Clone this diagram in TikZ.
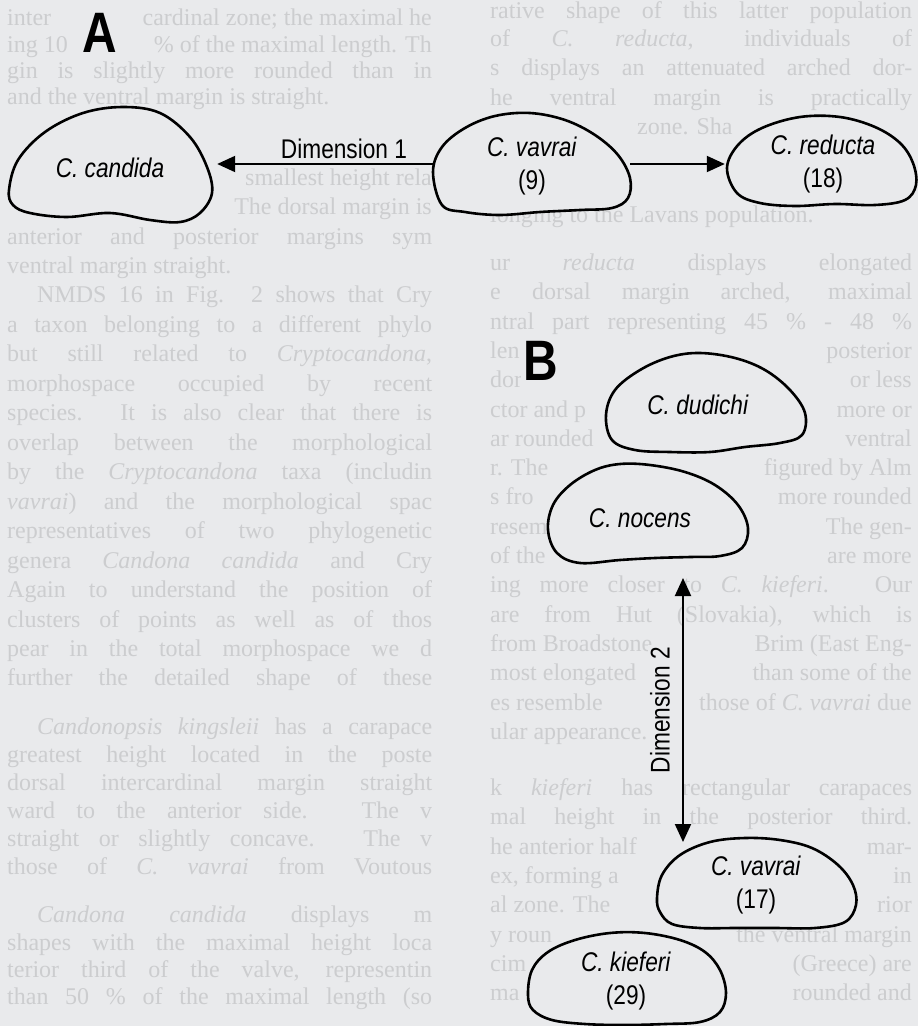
\documentclass[tikz,border=0pt]{standalone}
\usepackage{fontspec}
\setmainfont{Liberation Serif}
\newfontfamily\labfont[FakeStretch=0.84]{Liberation Sans}
\usetikzlibrary{arrows.meta}
\definecolor{paper}{HTML}{E9EAEC}
\definecolor{ghost}{HTML}{CCCDCF}
\tikzset{
  bgtext/.style={font=\fontsize{24}{24}\selectfont, text=ghost, inner sep=0pt, anchor=base west},
  bgR/.style={bgtext, anchor=base east},
  blob/.style={draw=black, line width=2.6pt, fill=paper, line join=round},
  bbox/.style={draw=none, inner sep=0pt},
  lab/.style={font=\labfont\fontsize{27}{33}\selectfont, align=center, inner sep=0pt},
  dimlab/.style={font=\labfont\fontsize{27}{33}\selectfont, inner sep=2pt, fill=paper},
  panel/.style={font=\labfont\fontsize{57}{57}\selectfont\bfseries, inner sep=3pt, fill=paper},
  arr/.style={line width=2pt, -{Triangle[length=18pt,width=16pt]}},
  dblarr/.style={line width=2pt, {Triangle[length=18pt,width=16pt]}-{Triangle[length=18pt,width=16pt]}},
}
\begin{document}
\begin{tikzpicture}[x=1pt,y=-1pt]
\fill[paper] (0,0) rectangle (918,1026);
\useasboundingbox (0,0) rectangle (918,1026);

% ---- faint text of the scanned page, left column ----
\foreach \yy/\tt [count=\i] in {
 78/{gin is slightly more rounded than in},
 104/{and the ventral margin is straight.\hfill},
 244/{anterior and posterior margins sym},
 273/{ventral margin straight.\hfill},
 302/{\hspace*{30pt}NMDS 16 in Fig. 2 shows that Cry},
 332/{a taxon belonging to a different phylo},
 361/{but still related to \textit{Cryptocandona},},
 391/{morphospace occupied by recent},
 420/{species. It is also clear that there is},
 450/{overlap between the morphological},
 479/{by the \textit{Cryptocandona} taxa (includin},
 509/{\textit{vavrai}) and the morphological spac},
 538/{representatives of two phylogenetic},
 568/{genera \textit{Candona candida} and Cry},
 597/{Again to understand the position of},
 627/{clusters of points as well as of thos},
 656/{pear in the total morphospace we d},
 685/{further the detailed shape of these},
 734/{\hspace*{30pt}\textit{Candonopsis kingsleii} has a carapace},
 762/{greatest height located in the poste},
 790/{dorsal intercardinal margin straight},
 818/{ward to the anterior side. The v},
 846/{straight or slightly concave. The v},
 874/{those of \textit{C. vavrai} from Voutous},
 922/{\hspace*{30pt}\textit{Candona candida} displays m},
 950/{shapes with the maximal height loca},
 977/{terior third of the valve, representin},
 1004/{than 50 \% of the maximal length (so}}
 \node[bgtext] (pa\i) at (7,\yy) {\makebox[425pt][s]{\tt}};
\node[bgtext] (pa1l) at (7,25) {inter};
\node[bgR] (pa1r) at (432,25) {cardinal zone; the maximal he};
\node[bgtext] (pa2l) at (7,52) {ing 10};
\node[bgR] (pa2r) at (432,52) {\% of the maximal length. Th};
\node[bgR] (pa6r) at (432,185) {smallest height rela};
\node[bgR] (pa7r) at (432,214) {The dorsal margin is};

% ---- faint text of the scanned page, right column ----
\foreach \yy/\tt [count=\i] in {
 18/{rative shape of this latter population},
 46/{of \textit{C. reducta}, individuals of},
 75/{s displays an attenuated arched dor-},
 105/{he ventral margin is practically},
 222/{longing to the Lavans population.\hfill},
 270/{ur \textit{reducta} displays elongated},
 299/{e dorsal margin arched, maximal},
 329/{ntral part representing 45 \% - 48 \%},
 592/{ing more closer to \textit{C. kieferi}. Our},
 622/{are from Hut (Slovakia), which is},
 795/{k \textit{kieferi} has rectangular carapaces},
 824/{mal height in the posterior third.}}
 \node[bgtext] (pb\i) at (490,\yy) {\makebox[422pt][s]{\tt}};
\node[bgtext] (q134) at (637,134) {zone. Sha};
\node[bgtext] (q358l) at (490,358) {len};
\node[bgR] (q358r) at (912,358) {posterior};
\node[bgtext] (q387l) at (490,387) {dor};
\node[bgR] (q387r) at (912,387) {or less};
\node[bgtext] (q417l) at (490,417) {ctor and p};
\node[bgR] (q417r) at (912,417) {more or};
\node[bgtext] (q446l) at (490,446) {ar rounded};
\node[bgR] (q446r) at (912,446) {ventral};
\node[bgtext] (q475l) at (490,475) {r. The};
\node[bgR] (q475r) at (912,475) {figured by Alm};
\node[bgtext] (q504l) at (490,504) {s fro};
\node[bgR] (q504r) at (912,504) {more rounded};
\node[bgtext] (q534l) at (490,534) {resem};
\node[bgR] (q534r) at (912,534) {The gen-};
\node[bgtext] (q563l) at (490,563) {of the};
\node[bgR] (q563r) at (912,563) {are more};
\node[bgtext] (q651l) at (490,651) {from Broadstone};
\node[bgR] (q651r) at (912,651) {Brim (East Eng-};
\node[bgtext] (q680l) at (490,680) {most elongated};
\node[bgR] (q680r) at (912,680) {than some of the};
\node[bgtext] (q710l) at (490,710) {es resemble};
\node[bgR] (q710r) at (912,710) {those of \textit{C. vavrai} due};
\node[bgtext] (q739l) at (490,739) {ular appearance.};
\node[bgtext] (q854l) at (490,854) {he anterior half};
\node[bgR] (q854r) at (912,854) {mar-};
\node[bgtext] (q883l) at (490,883) {ex, forming a};
\node[bgR] (q883r) at (912,883) {in};
\node[bgtext] (q912l) at (490,912) {al zone. The};
\node[bgR] (q912r) at (912,912) {rior};
\node[bgtext] (q942l) at (490,942) {y roun};
\node[bgR] (q942r) at (912,942) {the ventral margin};
\node[bgtext] (q971l) at (490,971) {cim};
\node[bgR] (q971r) at (912,971) {(Greece) are};
\node[bgtext] (q1000l) at (490,1000) {ma};
\node[bgR] (q1000r) at (912,1000) {rounded and};

% ---- panel letters ----
\node[panel] (A) at (100,33) {A};
\node[panel] (B) at (541,361) {B};

% ---- blob outlines ----
\draw[blob] plot[smooth cycle, tension=0.6] coordinates {(9,190) (18,160) (45,132) (83,113) (123,107) (160,113) (190,137) (207,167) (212,193) (200,213) (180,222) (150,220) (110,213) (67,217) (30,213) (13,205)};
\draw[blob] plot[smooth cycle, tension=0.6] coordinates {(433,172) (442,147) (465,128) (495,116) (530,113) (565,120) (595,135) (618,155) (630,178) (628,198) (612,208) (580,210) (540,212) (500,215) (465,212) (442,205)};
\draw[blob] plot[smooth cycle, tension=0.6] coordinates {(727,168) (738,145) (762,128) (800,117) (840,117) (875,127) (900,143) (913,163) (916,185) (905,200) (875,205) (835,204) (795,206) (760,203) (737,193)};
\draw[blob] plot[smooth cycle, tension=0.6] coordinates {(606,415) (615,390) (640,370) (670,357) (700,353) (735,358) (765,370) (790,390) (805,413) (802,435) (780,443) (745,447) (710,452) (670,452) (635,450) (612,440)};
\draw[blob] plot[smooth cycle, tension=0.6] coordinates {(548,530) (553,505) (570,485) (595,470) (620,464) (650,465) (685,472) (715,485) (738,505) (748,528) (742,548) (720,556) (690,557) (655,558) (620,560) (580,563) (557,553)};
\draw[blob] plot[smooth cycle, tension=0.6] coordinates {(657,898) (662,875) (680,855) (710,842) (745,838) (780,840) (812,848) (838,865) (853,885) (856,905) (845,922) (815,928) (775,928) (735,928) (700,928) (672,924) (660,912)};
\draw[blob] plot[smooth cycle, tension=0.6] coordinates {(528,995) (532,970) (548,952) (575,940) (610,933) (645,933) (680,940) (705,952) (720,970) (726,993) (720,1012) (700,1022) (665,1024) (625,1025) (585,1024) (552,1020) (533,1010)};

% ---- blob extents as named nodes ----
\node[bbox, minimum width=203pt, minimum height=118pt] (cand) at (110.5,166) {};
\node[bbox, minimum width=197pt, minimum height=102pt] (v9) at (531.5,164) {};
\node[bbox, minimum width=189pt, minimum height=89pt] (red) at (821.5,161.5) {};
\node[bbox, minimum width=200pt, minimum height=99pt] (dud) at (706,402.5) {};
\node[bbox, minimum width=200pt, minimum height=99pt] (noc) at (648,513.5) {};
\node[bbox, minimum width=199pt, minimum height=90pt] (v17) at (756.5,883) {};
\node[bbox, minimum width=198pt, minimum height=92pt] (kief) at (627,979) {};

% ---- labels ----
\node[lab] (candT) at (110,168) {\textit{C. candida}};
\node[lab] (v9T) at (532,166) {\textit{C. vavrai}\\(9)};
\node[lab] (redT) at (823,164) {\textit{C. reducta}\\(18)};
\node[lab] (dudT) at (698,405) {\textit{C. dudichi}};
\node[lab] (nocT) at (640,518) {\textit{C. nocens}};
\node[lab] (v17T) at (756,885) {\textit{C. vavrai}\\(17)};
\node[lab] (kiefT) at (626,981) {\textit{C. kieferi}\\(29)};

% ---- dimension labels ----
\node[dimlab] (dim1) at (344,149) {Dimension 1};
\node[dimlab, rotate=90] (dim2) at (660,710) {Dimension 2};

% ---- connectors ----
\draw[arr, shorten >=5pt] (v9.west) -- (v9.west -| cand.east);
\draw[arr, shorten >=2pt] (v9.east) -- (v9.east -| red.west);
\coordinate (d2top) at (683,578);
\coordinate (d2bot) at (683,842);
\draw[dblarr] (d2top) -- (d2bot);
\end{tikzpicture}
\end{document}
